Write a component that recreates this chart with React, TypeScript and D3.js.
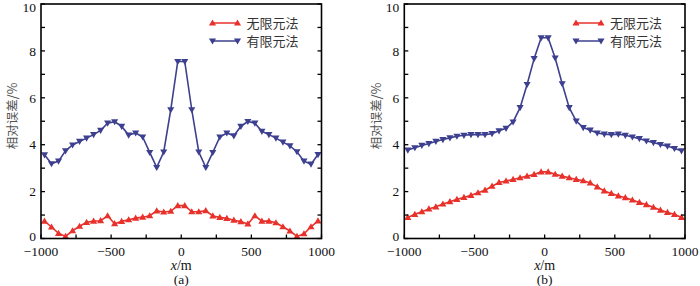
import React from "react";
import * as d3 from "d3";

const xs = [-975,-925,-875,-825,-775,-725,-675,-625,-575,-525,-475,-425,-375,-325,-275,-225,-175,-125,-75,-25,25,75,125,175,225,275,325,375,425,475,525,575,625,675,725,775,825,875,925,975];

const aInfinite = [0.74,0.49,0.22,0.09,0.33,0.52,0.69,0.74,0.76,0.97,0.63,0.73,0.80,0.87,0.91,0.97,1.18,1.13,1.16,1.40,1.40,1.14,1.14,1.19,0.96,0.90,0.86,0.78,0.72,0.62,0.97,0.74,0.74,0.67,0.50,0.32,0.09,0.20,0.50,0.75];
const aFinite = [3.57,3.19,3.30,3.74,3.99,4.14,4.28,4.43,4.61,4.92,4.98,4.78,4.41,4.50,4.33,3.67,3.03,3.69,5.49,7.55,7.55,5.49,3.69,3.03,3.67,4.33,4.50,4.38,4.78,4.99,4.92,4.57,4.43,4.28,4.11,3.95,3.70,3.30,3.17,3.58];

const bInfinite = [0.90,1.03,1.14,1.26,1.35,1.47,1.57,1.67,1.75,1.84,1.95,2.06,2.23,2.39,2.45,2.52,2.59,2.66,2.73,2.84,2.84,2.74,2.66,2.59,2.52,2.46,2.37,2.20,2.03,1.92,1.82,1.74,1.64,1.54,1.44,1.33,1.21,1.11,1.03,0.90];
const bFinite = [3.77,3.87,3.97,4.05,4.14,4.22,4.29,4.36,4.40,4.43,4.43,4.43,4.47,4.59,4.70,4.97,5.58,6.57,7.67,8.56,8.56,7.70,6.60,5.58,5.01,4.73,4.62,4.50,4.45,4.43,4.45,4.40,4.33,4.26,4.16,4.09,4.01,3.94,3.84,3.74];

const xTicks = [-1000, -500, 0, 500, 1000];
const xMinor = [-750, -250, 250, 750];
const yTicks = [0, 2, 4, 6, 8, 10];
const yMinor = [1, 3, 5, 7, 9];
const seriesNames = ["无限元法", "有限元法"];
const yTitle = "相对误差/%";

const RED = "#e8312b";
const BLUE = "#3d3f8f";
const SERIF = "Times New Roman, Liberation Serif, Tinos, serif";
const CJK = "Noto Sans CJK SC, sans-serif";

const triUp = d3.symbol().type(d3.symbolTriangle).size(22)() as string;

function Marker({ x, y, down, color }: { x: number; y: number; down: boolean; color: string }) {
  return <path d={triUp} transform={`translate(${x},${y + (down ? -0.5 : 0.5)})${down ? " rotate(180)" : ""}`} fill={color} />;
}

function Panel({ left, right, inf, fin, tag }: { left: number; right: number; inf: number[]; fin: number[]; tag: string }) {
  const top = 4, bottom = 238.5;
  const x = d3.scaleLinear().domain([-1000, 1000]).range([left, right]);
  const y = d3.scaleLinear().domain([0, 10]).range([bottom, top]);
  const line = d3.line<number>().x((_, i) => x(xs[i])).y((d) => y(d));
  const tl = 4;
  const legX0 = right - 109, legX1 = right - 84;
  return (
    <g>
      <path d={line(fin) as string} fill="none" stroke={BLUE} strokeWidth={1.6} />
      <path d={line(inf) as string} fill="none" stroke={RED} strokeWidth={1.6} />
      {fin.map((d, i) => <Marker key={"f" + i} x={x(xs[i])} y={y(d)} down color={BLUE} />)}
      {inf.map((d, i) => <Marker key={"i" + i} x={x(xs[i])} y={y(d)} down={false} color={RED} />)}
      <rect x={left} y={top} width={right - left} height={bottom - top} fill="none" stroke="#000" strokeWidth={1.6} />
      {[...xTicks, ...xMinor].map((t) => (
        <line key={"xt" + t} x1={x(t)} x2={x(t)} y1={bottom} y2={bottom - tl} stroke="#000" strokeWidth={1.3} />
      ))}
      {[...yTicks, ...yMinor].map((t) => (
        <g key={"yt" + t}>
          <line x1={left} x2={left + tl} y1={y(t)} y2={y(t)} stroke="#000" strokeWidth={1.3} />
          <line x1={right} x2={right - tl} y1={y(t)} y2={y(t)} stroke="#000" strokeWidth={1.3} />
        </g>
      ))}
      {yTicks.map((t) => (
        <text key={"yl" + t} x={left - 5} y={t === 10 ? y(t) + 3 : t === 0 ? y(t) - 2 : y(t)} dy="0.35em" textAnchor="end" fontFamily={SERIF} fontSize={13.5} fill="#111">{t}</text>
      ))}
      {xTicks.map((t) => (
        <text key={"xl" + t} x={x(t)} y={bottom + 12.5} dy="0.35em" textAnchor="middle" fontFamily={SERIF} fontSize={13.5} fill="#111">{t < 0 ? "\u2212" + Math.abs(t) : t}</text>
      ))}
      <text x={x(0)} y={270} textAnchor="middle" fontFamily={SERIF} fontSize={14} fill="#111"><tspan fontStyle="italic">x</tspan>/m</text>
      <text x={x(0)} y={284} textAnchor="middle" fontFamily={SERIF} fontSize={13.5} fill="#111">{tag}</text>
      <text transform={`translate(${left - 28},${116}) rotate(-90)`} textAnchor="middle" dy="0.35em" fontFamily={CJK} fontSize={12.5} fill="#555">{yTitle}</text>
      <line x1={legX0} x2={legX1} y1={23} y2={23} stroke={RED} strokeWidth={1.5} />
      <Marker x={legX0} y={23} down={false} color={RED} />
      <Marker x={legX1} y={23} down={false} color={RED} />
      <text x={legX1 + 9} y={23} dy="0.36em" fontFamily={CJK} fontSize={13} fill="#333">{seriesNames[0]}</text>
      <line x1={legX0} x2={legX1} y1={41} y2={41} stroke={BLUE} strokeWidth={1.5} />
      <Marker x={legX0} y={41} down color={BLUE} />
      <Marker x={legX1} y={41} down color={BLUE} />
      <text x={legX1 + 9} y={41} dy="0.36em" fontFamily={CJK} fontSize={13} fill="#333">{seriesNames[1]}</text>
    </g>
  );
}

export default function App() {
  return (
    <svg width={700} height={286} style={{ position: "absolute", left: 0, top: 0, background: "#fff" }}>
      <rect width={700} height={286} fill="#fff" />
      <Panel left={41} right={321.5} inf={aInfinite} fin={aFinite} tag="(a)" />
      <Panel left={404.3} right={685} inf={bInfinite} fin={bFinite} tag="(b)" />
    </svg>
  );
}
